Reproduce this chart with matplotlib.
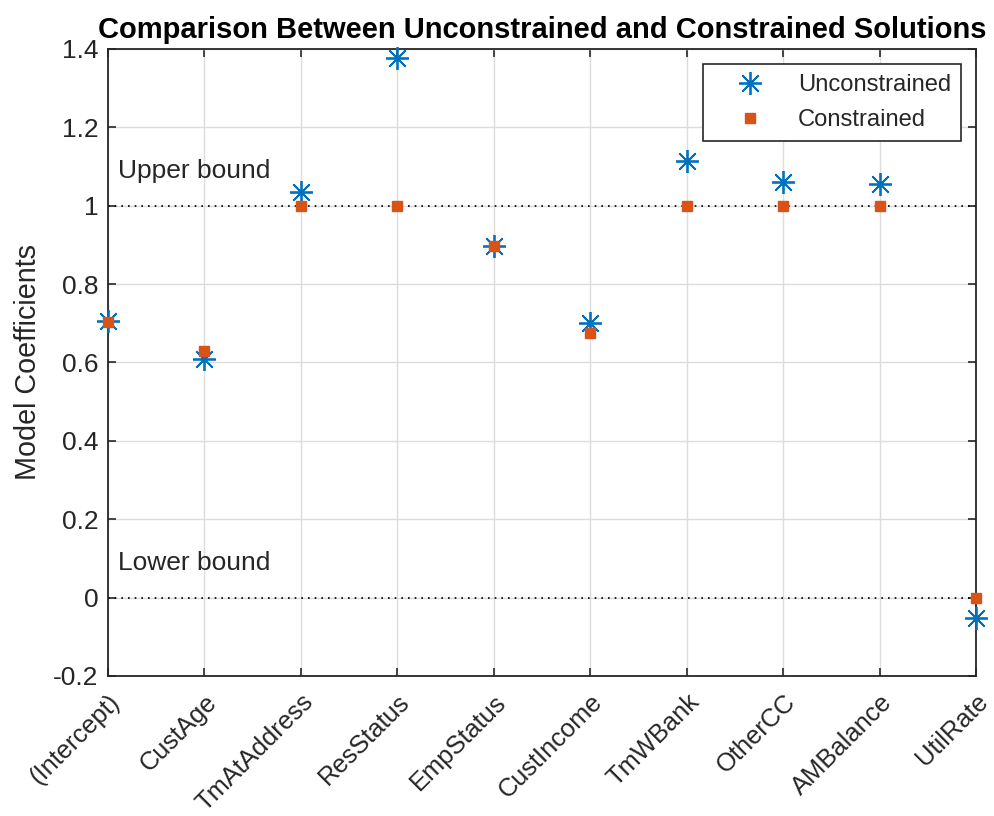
import matplotlib
matplotlib.use("Agg")
import matplotlib.pyplot as plt
from matplotlib.transforms import ScaledTranslation

plt.rcParams['font.family'] = ['Liberation Sans', 'DejaVu Sans']

categories = ["(Intercept)", "CustAge", "TmAtAddress", "ResStatus", "EmpStatus",
              "CustIncome", "TmWBank", "OtherCC", "AMBalance", "UtilRate"]
unconstrained = [0.705, 0.608, 1.036, 1.378, 0.898, 0.700, 1.114, 1.060, 1.056, -0.052]
constrained = [0.702, 0.629, 1.0, 1.0, 0.898, 0.674, 1.0, 1.0, 1.0, 0.0]
upper_bound = 1.0
lower_bound = 0.0
yticks = [-0.2, 0, 0.2, 0.4, 0.6, 0.8, 1, 1.2, 1.4]
ytick_labels = ["-0.2", "0", "0.2", "0.4", "0.6", "0.8", "1", "1.2", "1.4"]

blue = "#0072BD"
orange = "#D95319"
axcol = "#262626"
fs = 19
xfs = 18.4
lfs = 17.1

fig = plt.figure(figsize=(9.94, 8.16), dpi=100)
ax = fig.add_axes([0.1087, 0.1716, 0.8732, 0.7684])

x = list(range(1, len(categories) + 1))
ax.plot(x, unconstrained, linestyle='none', marker=(8, 2, 0), markersize=16.5,
        markeredgewidth=1.3, color=blue, label="Unconstrained", zorder=3, clip_on=False)
ax.plot(x, constrained, linestyle='none', marker='s', markersize=6.8,
        color=orange, markeredgecolor=orange, label="Constrained", zorder=4, clip_on=False)

ax.axhline(upper_bound, color='black', linestyle=(0, (1, 3)), linewidth=1.2, zorder=2)
ax.axhline(lower_bound, color='black', linestyle=(0, (1, 3)), linewidth=1.2, zorder=2)

ax.text(1.1, 1.07, "Upper bound", fontsize=fs, color=axcol, va='baseline', ha='left')
ax.text(1.1, 0.07, "Lower bound", fontsize=fs, color=axcol, va='baseline', ha='left')

ax.set_xlim(1, len(categories))
ax.set_ylim(-0.2, 1.4)
ax.set_xticks(x)
ax.set_xticklabels(categories, rotation=45, ha='right', rotation_mode='anchor')
ax.set_yticks(yticks)
ax.set_yticklabels(ytick_labels)

ax.grid(True, color='#dcdcdc', linewidth=1.0, zorder=0)
ax.set_axisbelow(True)
ax.tick_params(axis='both', direction='in', length=6, width=1.2, colors=axcol,
               labelsize=fs, top=True, right=True, pad=7)
ax.tick_params(axis='x', labelsize=xfs)
for s in ax.spines.values():
    s.set_color(axcol)
    s.set_linewidth(1.3)

offset = ScaledTranslation(0 / 100, -4 / 100, fig.dpi_scale_trans)
for lbl in ax.get_xticklabels():
    lbl.set_transform(lbl.get_transform() + offset)

ax.set_ylabel("Model Coefficients", fontsize=20.7, color=axcol, labelpad=8)
ax.set_title("Comparison Between Unconstrained and Constrained Solutions",
             fontsize=21, fontweight='bold', color='black', pad=8)

leg = ax.legend(loc='upper right', fontsize=lfs, frameon=True, fancybox=False,
                edgecolor=axcol, framealpha=1, handlelength=3.16, handletextpad=0.44,
                borderaxespad=0.65, labelspacing=0.56, borderpad=0.4)
leg.get_frame().set_linewidth(1.2)
for t in leg.get_texts():
    t.set_color(axcol)

fig.savefig("out.png", dpi=100)
